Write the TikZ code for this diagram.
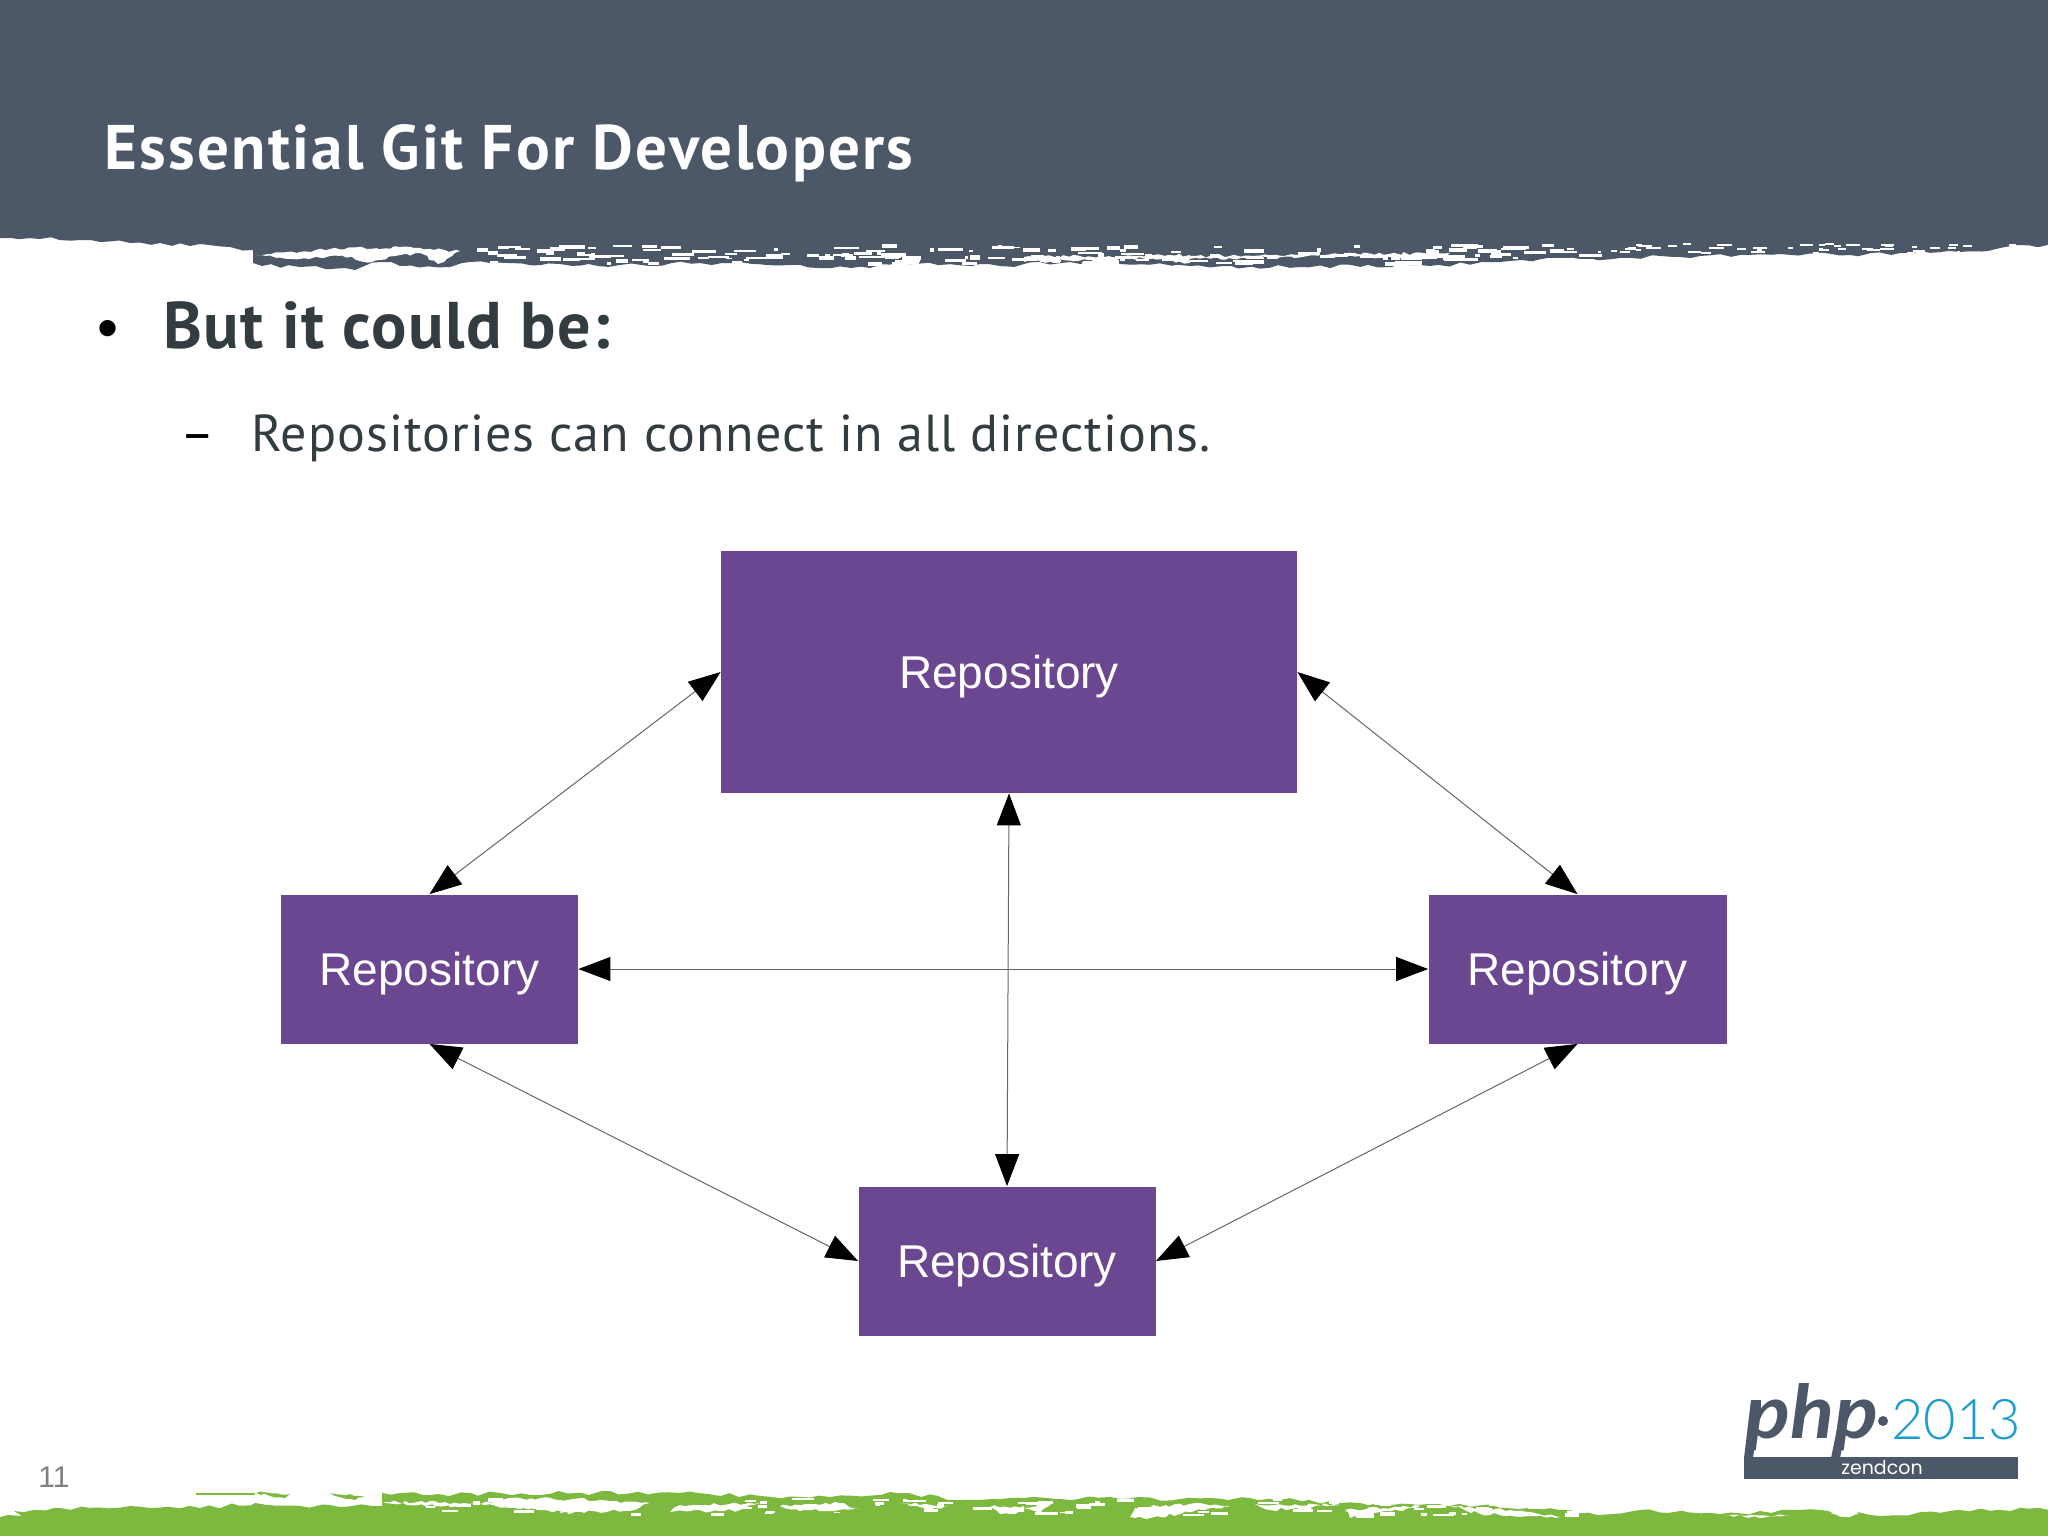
\documentclass[tikz,border=0pt]{standalone}
\usepackage{fontspec}
\usetikzlibrary{arrows.meta,decorations.pathmorphing}
\setmainfont{Liberation Sans}
\newfontfamily\titlefont[LetterSpace=3.6]{PT Sans}
\newfontfamily\headfont[LetterSpace=2.3]{PT Sans}
\newfontfamily\slidefont[LetterSpace=2.0]{PT Sans}
\newfontfamily\logofont[FakeStretch=1.1]{Lato}
\newfontfamily\yearfont{Lato Light}
\newfontfamily\logowide{Poppins}
\definecolor{slate}{HTML}{4C5768}
\definecolor{leaf}{HTML}{7DB93F}
\definecolor{ink}{HTML}{333C40}
\definecolor{plum}{HTML}{6B4791}
\definecolor{sky}{HTML}{1C9DD0}
\tikzset{
  repo/.style={fill=plum,draw=none,text=white,inner sep=0pt,text height=21.7pt,text depth=4.8pt,font=\fontsize{23}{26}\selectfont},
  link/.style={draw=black!60,line width=0.5pt,{Triangle[length=16pt,width=12pt,color=black]}-{Triangle[length=16pt,width=12pt,color=black]}},
  txt/.style={anchor=base west,inner sep=0pt},
  torn/.style={decorate,decoration={random steps,segment length=5pt,amplitude=1.1pt}},
  tornfine/.style={decorate,decoration={random steps,segment length=2.5pt,amplitude=0.8pt}},
}
\begin{document}
\begin{tikzpicture}[x=0.5pt,y=-0.5pt]
\useasboundingbox (0,0) rectangle (2048,1535);
\fill[white] (0,0) rectangle (2048,1535);
\pgfmathsetseed{4711}
% header with torn edge
\fill[slate,torn] (-10,-10) -- (2058,-10) -- (2058,244) -- (2000,248) -- (1960,252) -- (1900,253) -- (1850,255) -- (1780,254) -- (1700,256) -- (1593,259) -- (1560,258) -- (1500,262) -- (1430,266) -- (1300,267) -- (1190,266) -- (1120,264) -- (1100,262) -- (1024,264) -- (1000,266) -- (900,263) -- (870,268) -- (790,265) -- (700,263) -- (620,265) -- (560,264) -- (490,263) -- (470,262) -- (450,267) -- (400,266) -- (380,262) -- (355,270) -- (300,267) -- (262,266) -- (253,263) -- (253,250) -- (230,247) -- (200,244) -- (190,246) -- (160,243) -- (130,243) -- (100,242) -- (80,240) -- (40,239) -- (-10,237) -- cycle;
\fill[white,tornfine] (256,255) -- (300,252) -- (330,249) -- (400,247) -- (460,251) -- (438,264) -- (420,253) -- (395,256) -- (372,262) -- (340,256) -- (300,259) -- cycle;
\fill[white,tornfine] (1024,257) -- (1190,255) -- (1190,263) -- (1150,258) -- (1024,262) -- cycle;
\fill[white,tornfine] (1190,256) -- (1450,253) -- (1445,259) -- (1330,256) -- (1190,259) -- cycle;
\foreach \i in {1,...,170}{
  \pgfmathsetmacro{\xa}{470+rnd*1120}
  \pgfmathsetmacro{\ya}{244+rnd*18}
  \pgfmathsetmacro{\wa}{3+rnd*24}
  \pgfmathsetmacro{\ha}{1.5+rnd*3}
  \fill[white] (\xa,\ya) rectangle ++(\wa,\ha);
}
\foreach \i in {1,...,50}{
  \pgfmathsetmacro{\xa}{1590+rnd*450}
  \pgfmathsetmacro{\ya}{243+rnd*9}
  \pgfmathsetmacro{\wa}{3+rnd*12}
  \fill[white] (\xa,\ya) rectangle ++(\wa,2);
}
% green footer with torn edge
\fill[leaf,torn] (-10,1545) -- (-10,1518) -- (22,1516) -- (14,1511) -- (60,1508) -- (130,1506) -- (200,1508) -- (255,1503) -- (300,1506) -- (382,1506) -- (382,1493) -- (430,1495) -- (500,1493) -- (680,1493) -- (760,1496) -- (830,1497) -- (890,1492) -- (960,1500) -- (1024,1498) -- (1060,1499) -- (1110,1497) -- (1180,1499) -- (1250,1498) -- (1340,1503) -- (1430,1504) -- (1560,1510) -- (1612,1514) -- (1640,1510) -- (1720,1514) -- (1800,1510) -- (1880,1516) -- (1950,1511) -- (2058,1508) -- (2058,1545) -- cycle;
\fill[leaf] (196,1493) rectangle (255,1494.5);
\fill[leaf,tornfine] (256,1493) -- (290,1494) -- (285,1498) -- cycle;
\fill[leaf,tornfine] (330,1493) -- (365,1497) -- (350,1499) -- cycle;
\fill[white,tornfine] (382,1502) -- (450,1507) -- (520,1498) -- (600,1500) -- (640,1503) -- (568,1512) -- (520,1509) -- (470,1503) -- cycle;
\fill[white,tornfine] (570,1503) -- (650,1503) -- (635,1510) -- (560,1513) -- cycle;
\fill[white,tornfine] (680,1505) -- (760,1503) -- (740,1510) -- (670,1512) -- cycle;
\fill[white,tornfine] (780,1506) -- (840,1503) -- (860,1509) -- (800,1511) -- cycle;
\fill[white,tornfine] (900,1503) -- (950,1505) -- (930,1510) -- cycle;
\fill[white,tornfine] (990,1507) -- (1024,1506) -- (1024,1512) -- (1000,1514) -- cycle;
\fill[white,tornfine] (1024,1508) -- (1052,1503) -- (1040,1513) -- cycle;
\fill[white,tornfine] (1135,1508) -- (1200,1503) -- (1230,1506) -- (1150,1518) -- (1130,1517) -- cycle;
\fill[white,tornfine] (1255,1504) -- (1340,1505) -- (1270,1510) -- cycle;
\fill[white,tornfine] (1345,1510) -- (1420,1506) -- (1350,1518) -- cycle;
\fill[white,tornfine] (1450,1506) -- (1530,1512) -- (1560,1517) -- (1480,1514) -- cycle;
\fill[white,tornfine] (1725,1515) -- (1790,1515) -- (1760,1518) -- cycle;
\fill[white,tornfine] (1830,1513) -- (1860,1514) -- (1850,1517) -- cycle;
\foreach \i in {1,...,90}{
  \pgfmathsetmacro{\xa}{400+rnd*1200}
  \pgfmathsetmacro{\ya}{1497+rnd*17}
  \pgfmathsetmacro{\wa}{4+rnd*18}
  \pgfmathsetmacro{\ha}{1.5+rnd*2.5}
  \fill[white] (\xa,\ya) rectangle ++(\wa,\ha);
}
% slide text
\node[txt,text=white] (title) at (104,170) {\titlefont\bfseries\fontsize{31.5}{36}\selectfont Essential Git For Developers};
\node[txt] (bul) at (97,349) {\fontsize{30}{34}\selectfont •};
\node[txt,text=ink] (head) at (163,349) {\headfont\bfseries\fontsize{33}{38}\selectfont But it could be:};
\node[txt,text=black] (dash) at (180,451) {\slidefont\fontsize{26}{30}\selectfont –};
\node[txt,text=ink] (sub) at (251,451) {\slidefont\fontsize{26}{30}\selectfont Repositories can connect in all directions.};
\node[txt,text=black!50] (pg) at (38,1487) {\fontsize{15}{18}\selectfont 11};
% diagram
\node[repo,minimum width=288pt,minimum height=121pt] (top) at (1009,672) {Repository};
\node[repo,minimum width=148.5pt,minimum height=74.5pt] (left) at (429.5,969) {Repository};
\node[repo,minimum width=149pt,minimum height=74.5pt] (right) at (1577.5,969) {Repository};
\node[repo,minimum width=148.5pt,minimum height=74.5pt] (bottom) at (1007,1261) {Repository};
\draw[link] (top.west) -- (left.north);
\draw[link] (top.east) -- (right.north);
\draw[link] (top.south) -- (bottom.north);
\draw[link] (left.east) -- (right.west);
\draw[link] (left.south) -- (bottom.west);
\draw[link] (right.south) -- (bottom.east);
% logo
\fill[slate] (1744,1457) rectangle (2018,1479);
\fill[slate] (1751,1400) -- (1761,1400) -- (1753,1458) -- (1744,1458) -- cycle;
\fill[slate] (1843,1400) -- (1851,1400) -- (1840,1458) -- (1831,1458) -- cycle;
\node[txt,text=slate] (php) at (1746,1438) {\logofont\bfseries\itshape\fontsize{37}{40}\selectfont php};
\fill[slate] (1883,1421) circle (5);
\node[txt,text=sky] (yr) at (1891,1439) {\yearfont\fontsize{28}{32}\selectfont 2013};
\node[text=white,inner sep=0pt] (zc) at (1882,1468) {\logowide\fontsize{9.5}{11}\selectfont zendcon};
\end{tikzpicture}
\end{document}
